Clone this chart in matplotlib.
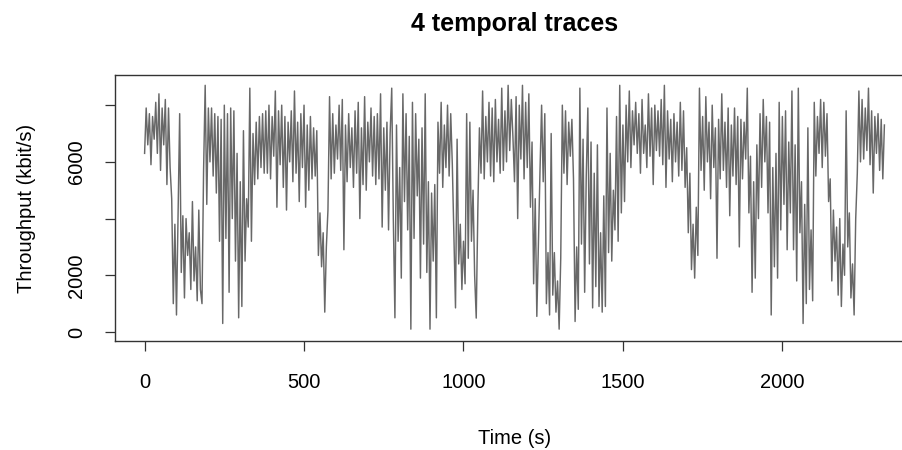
import matplotlib
matplotlib.use("Agg")
import matplotlib.pyplot as plt
import numpy as np

# throughput samples (kbit/s), one every 5 s
throughput = [
    # 0 - 95 s
    6300, 7900, 6600, 7700, 5900, 7600, 6800, 8100, 6300, 8400,
    5700, 7900, 6600, 8200, 5200, 7900, 5800, 4700, 1000, 3800,
    # 100 - 195 s
    600, 4200, 7700, 2100, 4100, 1200, 4000, 2700, 3500, 1500,
    4600, 1800, 3000, 1100, 4300, 1500, 1000, 5700, 8700, 4500,
    # 200 - 295 s
    7900, 6000, 7900, 5500, 7700, 4900, 7600, 3200, 7500, 300,
    8000, 3300, 7700, 1400, 7900, 4000, 7800, 2500, 6300, 500,
    # 300 - 395 s
    5300, 900, 7100, 2500, 4700, 3700, 8600, 3200, 7000, 5200,
    7400, 5400, 7600, 5800, 7700, 5600, 7800, 5600, 8000, 5400,
    # 400 - 495 s
    7600, 6200, 8500, 4400, 7800, 5900, 8000, 5100, 7600, 4300,
    7400, 6000, 7800, 5300, 8500, 5600, 7400, 4600, 7700, 5800,
    # 500 - 595 s
    8000, 4400, 7300, 5000, 7600, 5400, 7200, 5500, 7100, 2700,
    4200, 2300, 3500, 700, 3000, 4300, 8300, 5400, 7700, 5600,
    # 600 - 695 s
    7300, 6100, 8000, 5700, 8200, 2900, 7300, 5300, 7700, 5800,
    7200, 5100, 7800, 5600, 8100, 4000, 7200, 5200, 8300, 5000,
    # 700 - 795 s
    7400, 6000, 7900, 5500, 7600, 5200, 7700, 5400, 8400, 3700,
    7200, 5000, 7400, 3600, 7000, 8600, 4000, 500, 7300, 3200,
    # 800 - 895 s
    5800, 1900, 8400, 4600, 7700, 3600, 6900, 100, 8100, 3300,
    7700, 4800, 6800, 1900, 7200, 3100, 8400, 2100, 5300, 100,
    # 900 - 995 s
    4900, 2500, 5200, 500, 7400, 5600, 8100, 5100, 7300, 5800,
    8000, 5500, 7700, 5900, 3300, 850, 6800, 2400, 3800, 1500,
    # 1000 - 1095 s
    3200, 1700, 7700, 2600, 7400, 3200, 5000, 2000, 490, 4300,
    7200, 5600, 8500, 5400, 7600, 6000, 8100, 5500, 7900, 5300,
    # 1100 - 1195 s
    8200, 6000, 7500, 5600, 8600, 5700, 7800, 6000, 8700, 6400,
    8200, 6900, 5300, 8300, 4000, 8000, 6100, 8700, 5400, 8100,
    # 1200 - 1295 s
    5800, 8400, 4400, 6700, 1700, 4700, 550, 3100, 5700, 8000,
    5300, 7700, 1000, 2800, 600, 7000, 1300, 2800, 700, 1800,
    # 1300 - 1395 s
    100, 2600, 8000, 5600, 7800, 5200, 7400, 6200, 7500, 5400,
    370, 3000, 800, 8600, 3100, 6800, 1400, 5500, 7900, 2400,
    # 1400 - 1495 s
    6700, 850, 5600, 1600, 6600, 900, 3500, 700, 4800, 900,
    7900, 2800, 6300, 2500, 5000, 3600, 7600, 3200, 8700, 4200,
    # 1500 - 1595 s
    7300, 4600, 8000, 6000, 8500, 5800, 7800, 6600, 8100, 6300,
    7700, 5600, 8200, 6300, 7300, 5800, 8400, 6200, 7900, 5200,
    # 1600 - 1695 s
    8000, 6400, 7800, 6200, 8200, 5900, 8700, 5100, 7800, 6100,
    7500, 5300, 7700, 6000, 7400, 5500, 8100, 5700, 7800, 5100,
    # 1700 - 1795 s
    6500, 3500, 5600, 2200, 3800, 1900, 4400, 2700, 8600, 5700,
    7600, 5000, 8300, 6000, 7400, 4700, 8000, 5800, 7200, 2600,
    # 1800 - 1895 s
    7500, 5400, 8400, 5700, 7400, 5100, 7900, 4100, 7300, 5500,
    7900, 5200, 7600, 3000, 7500, 5400, 7400, 6100, 8600, 4200,
    # 1900 - 1995 s
    6200, 1400, 5300, 1900, 6600, 4000, 7700, 5100, 8200, 6000,
    7600, 4200, 7400, 600, 5800, 2300, 6300, 1900, 8100, 3600,
    # 2000 - 2095 s
    7600, 4500, 7800, 2900, 6700, 4200, 8500, 2900, 6600, 1800,
    8600, 3500, 5300, 300, 4500, 1000, 7200, 1500, 3600, 1100,
    # 2100 - 2195 s
    8100, 5500, 7600, 6300, 8200, 5800, 8100, 6200, 7700, 4600,
    5400, 1800, 4300, 2500, 3700, 1300, 4000, 900, 3100, 2000,
    # 2200 - 2295 s
    7800, 3000, 4200, 1200, 2400, 600, 4000, 5600, 8500, 6000,
    8200, 6100, 7900, 6400, 8600, 5900, 7800, 4900, 7600, 6300,
    # 2300 - 2320 s
    7700, 5700, 7500, 5400, 7300,
]
time_s = np.arange(len(throughput)) * 5

font = ["Liberation Sans", "DejaVu Sans"]
plt.rcParams["font.family"] = font

fig = plt.figure(figsize=(9.03, 4.5), dpi=100)
W, H = 903, 450
# plot region in pixels (R-like box, runs past the right edge)
left, right, top, bottom = 115, 914, 75, 341
ax = fig.add_axes([left / W, 1 - bottom / H, (right - left) / W, (bottom - top) / H])

ax.plot(time_s, throughput, color="#686868", lw=1.05)

span = time_s[-1] - time_s[0]
ax.set_xlim(time_s[0] - 0.04 * span, time_s[-1] + 0.04 * span)
ax.set_ylim(-318, 9064)

ax.set_xticks([0, 500, 1000, 1500, 2000])
ax.set_yticks([0, 2000, 4000, 6000, 8000])
ax.set_yticklabels(["0", "2000", "", "6000", ""], rotation=90, va="center")
ax.tick_params(direction="out", length=7, width=0.9, color="#333333",
               labelsize=14.5, pad=16)
ax.tick_params(axis="y", pad=14)

for s in ax.spines.values():
    s.set_linewidth(1.0)
    s.set_color("#333333")

ax.set_title("4 temporal traces", fontsize=18, fontweight="bold", pad=32)
ax.set_xlabel("Time (s)", fontsize=14.5, labelpad=27)
ax.set_ylabel("Throughput (kbit/s)", fontsize=14.5, labelpad=22)

fig.savefig("out.png", dpi=100)
